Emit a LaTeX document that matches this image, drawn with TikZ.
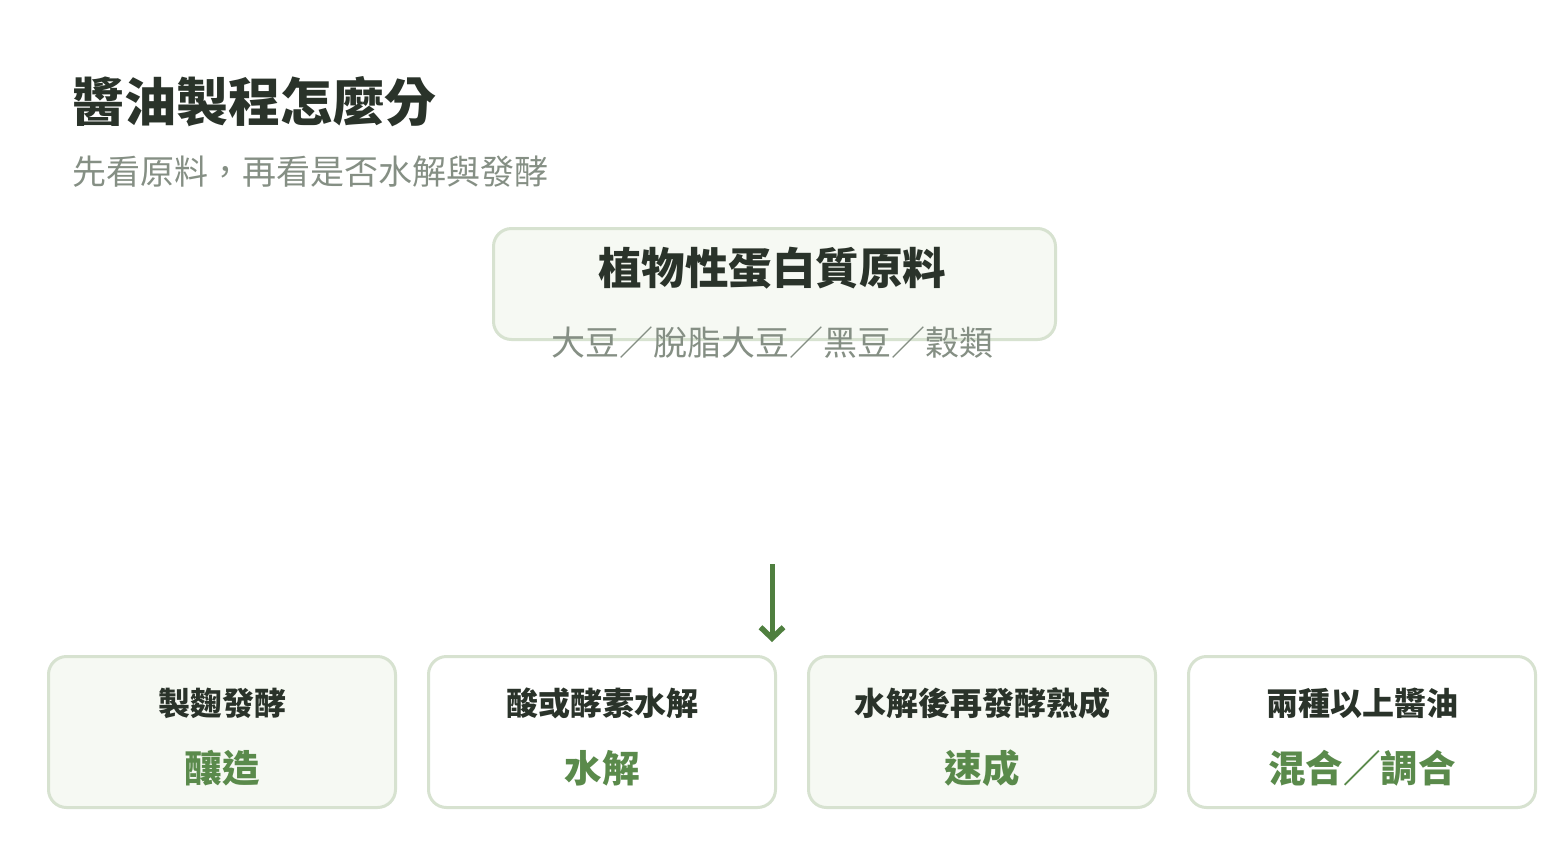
\documentclass[tikz,border=0pt]{standalone}
\usepackage{fontspec}
\usetikzlibrary{arrows.meta}
\setmainfont{Noto Sans CJK TC}
\newfontfamily\cjk{Noto Sans CJK TC}
\definecolor{ink}{HTML}{2A332A}
\definecolor{muted}{HTML}{858F84}
\definecolor{leaf}{HTML}{5A8A4B}
\definecolor{arrowgreen}{HTML}{4F7F3F}
\definecolor{edge}{HTML}{D7E2D0}
\definecolor{pale}{HTML}{F6F9F3}
\tikzset{
  card/.style={draw=edge, line width=3pt, rounded corners=18pt, minimum width=347pt, minimum height=151pt, anchor=north west, inner sep=0pt},
  toptext/.style={font=\cjk\bfseries\fontsize{32}{36}\selectfont, text=ink},
  bottext/.style={font=\cjk\bfseries\fontsize{37.5}{42}\selectfont, text=leaf},
}
\begin{document}
\begin{tikzpicture}[x=1pt,y=-1pt]
\useasboundingbox (0,0) rectangle (1546,860);
\fill[white] (0,0) rectangle (1546,860);
\node[anchor=west, font=\cjk\bfseries\fontsize{52}{58}\selectfont, text=ink, inner sep=0pt] (title) at (72,102) {醬油製程怎麼分};
\node[anchor=west, font=\cjk\fontsize{34}{40}\selectfont, text=muted, inner sep=0pt] (subtitle) at (72,172) {先看原料，再看是否水解與發酵};
\node[draw=edge, fill=pale, line width=3pt, rounded corners=18pt, minimum width=562pt, minimum height=111pt, anchor=north west, inner sep=0pt] (src) at (492,227) {};
\node[font=\cjk\bfseries\fontsize{43.5}{50}\selectfont, text=ink, inner sep=0pt] (srctitle) at (772,268) {植物性蛋白質原料};
\node[font=\cjk\fontsize{34}{42}\selectfont, text=muted, inner sep=0pt] (srcsub) at (772,343) {大豆／脫脂大豆／黑豆／穀類};
\coordinate (a1) at (772,564);
\coordinate (a2) at (772,642);
\draw[arrowgreen, line width=5pt, -{Straight Barb[length=11pt,width=23pt,line width=5.5pt]}] (a1) -- (a2);
\node[card, fill=pale] (b1) at (47,655) {};
\node[card, fill=white] (b2) at (427,655) {};
\node[card, fill=pale] (b3) at (807,655) {};
\node[card, fill=white] (b4) at (1187,655) {};
\node[toptext] (t1) at ([yshift=-48pt]b1.north) {製麴發酵};
\node[bottext] (s1) at ([yshift=-113pt]b1.north) {釀造};
\node[toptext] (t2) at ([yshift=-48pt]b2.north) {酸或酵素水解};
\node[bottext] (s2) at ([yshift=-113pt]b2.north) {水解};
\node[toptext] (t3) at ([yshift=-48pt]b3.north) {水解後再發酵熟成};
\node[bottext] (s3) at ([yshift=-113pt]b3.north) {速成};
\node[toptext] (t4) at ([yshift=-48pt]b4.north) {兩種以上醬油};
\node[bottext] (s4) at ([yshift=-113pt]b4.north) {混合／調合};
\end{tikzpicture}
\end{document}
